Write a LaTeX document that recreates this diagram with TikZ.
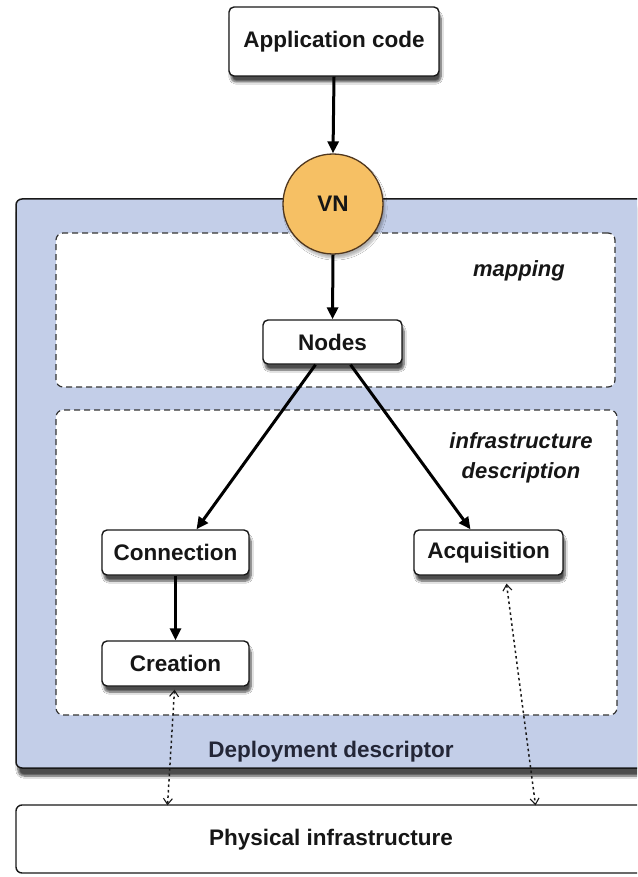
\documentclass[tikz,border=0pt]{standalone}
\usepackage{fontspec}
\setmainfont{Liberation Sans}
\usetikzlibrary{arrows.meta,shadows.blur}
\definecolor{deplblue}{RGB}{195,206,232}
\definecolor{vnfill}{RGB}{246,192,100}
\definecolor{vnborder}{RGB}{80,55,30}
\definecolor{txt}{RGB}{22,22,22}
\definecolor{deptxt}{RGB}{35,38,55}
\begin{document}
\begin{tikzpicture}[x=1pt,y=-1pt,
  box/.style={draw=black!90, line width=1.4pt, fill=white, rounded corners=5pt,
    inner sep=0pt, text=txt, font=\fontsize{22.5}{26}\selectfont\bfseries,
    blur shadow={shadow xshift=2pt, shadow yshift=-6pt, shadow blur steps=8, shadow opacity=70}},
  dashbox/.style={draw=black!80, line width=1.2pt, dash pattern=on 6pt off 4pt,
    fill=white, rounded corners=7pt, inner sep=0pt},
  lbl/.style={text=txt, font=\fontsize{22}{30}\selectfont\bfseries\itshape, align=center},
  flow/.style={line width=3pt, draw=black, -{Triangle[length=12pt,width=11pt]}},
  link/.style={line width=1.5pt, dash pattern=on 2.5pt off 3pt, draw=black!90,
    {Straight Barb[length=6pt,width=9pt,line width=1.1pt]}-{Straight Barb[length=6pt,width=9pt,line width=1.1pt]}}
]
\useasboundingbox (0,0) rectangle (637,877);
\clip (0,0) rectangle (637,877);
\fill[white] (0,0) rectangle (637,877);

% deployment descriptor
\node[draw=black!90, line width=1.5pt, fill=deplblue, rounded corners=6pt,
  minimum width=640pt, minimum height=569pt, inner sep=0pt,
  blur shadow={shadow xshift=2pt, shadow yshift=-8pt, shadow blur steps=8, shadow opacity=70}]
  (deploy) at (336,483.5) {};
\node[text=deptxt, font=\fontsize{22.5}{26}\selectfont\bfseries] (deplabel) at (331,752) {Deployment descriptor};

% dashed regions
\node[dashbox, minimum width=559pt, minimum height=154pt] (map) at (335.5,310) {};
\node[dashbox, minimum width=561pt, minimum height=305pt] (infra) at (336.5,562.5) {};
\node[lbl] (maplabel) at (519,271) {mapping};
\node[lbl] (infralabel) at (521,458) {infrastructure\\description};

% physical infrastructure
\node[draw=black!90, line width=1.4pt, fill=white, rounded corners=6pt,
  minimum width=640pt, minimum height=68pt, inner sep=0pt] (phys) at (336,839) {};
\node[text=txt, font=\fontsize{22.5}{26}\selectfont\bfseries] (physlabel) at (331,840) {Physical infrastructure};

% application code
\node[box, minimum width=210pt, minimum height=69pt] (app) at (334,41.5) {Application code};

% VN
\node[circle, draw=vnborder, line width=1.3pt, fill=vnfill, minimum size=100pt, inner sep=0pt,
  text=txt, font=\fontsize{22.5}{26}\selectfont\bfseries,
  blur shadow={shadow xshift=2pt, shadow yshift=-4pt, shadow blur steps=6, shadow opacity=30}]
  (vn) at (333,204) {VN};

% inner boxes
\node[box, minimum width=139pt, minimum height=44pt] (nodes) at (332.5,342) {Nodes};
\node[box, minimum width=147pt, minimum height=45pt] (conn) at (175.5,552.5) {Connection};
\node[box, minimum width=149pt, minimum height=45pt] (acq) at (488.5,552.5) {Acquisition};
\node[box, minimum width=147pt, minimum height=45pt] (crea) at (175.5,663.5) {Creation};

% arrows
\draw[flow] (app.south) -- (vn.north);
\draw[flow] (vn.south) -- (nodes.north);
\draw[flow] ([xshift=-17pt]nodes.south) -- ([xshift=21pt]conn.north);
\draw[flow] ([xshift=18pt]nodes.south) -- ([xshift=-18pt]acq.north);
\draw[flow] (conn.south) -- (crea.south |- crea.north);

\coordinate (pl) at ([xshift=-8pt,yshift=-1pt]crea.south |- phys.north);
\coordinate (pr) at ([xshift=47pt,yshift=-1pt]acq.south |- phys.north);
\draw[link] ([xshift=-1pt,yshift=-3pt]crea.south) -- (pl);
\draw[link] ([xshift=18pt,yshift=-8pt]acq.south) -- (pr);
\end{tikzpicture}
\end{document}
